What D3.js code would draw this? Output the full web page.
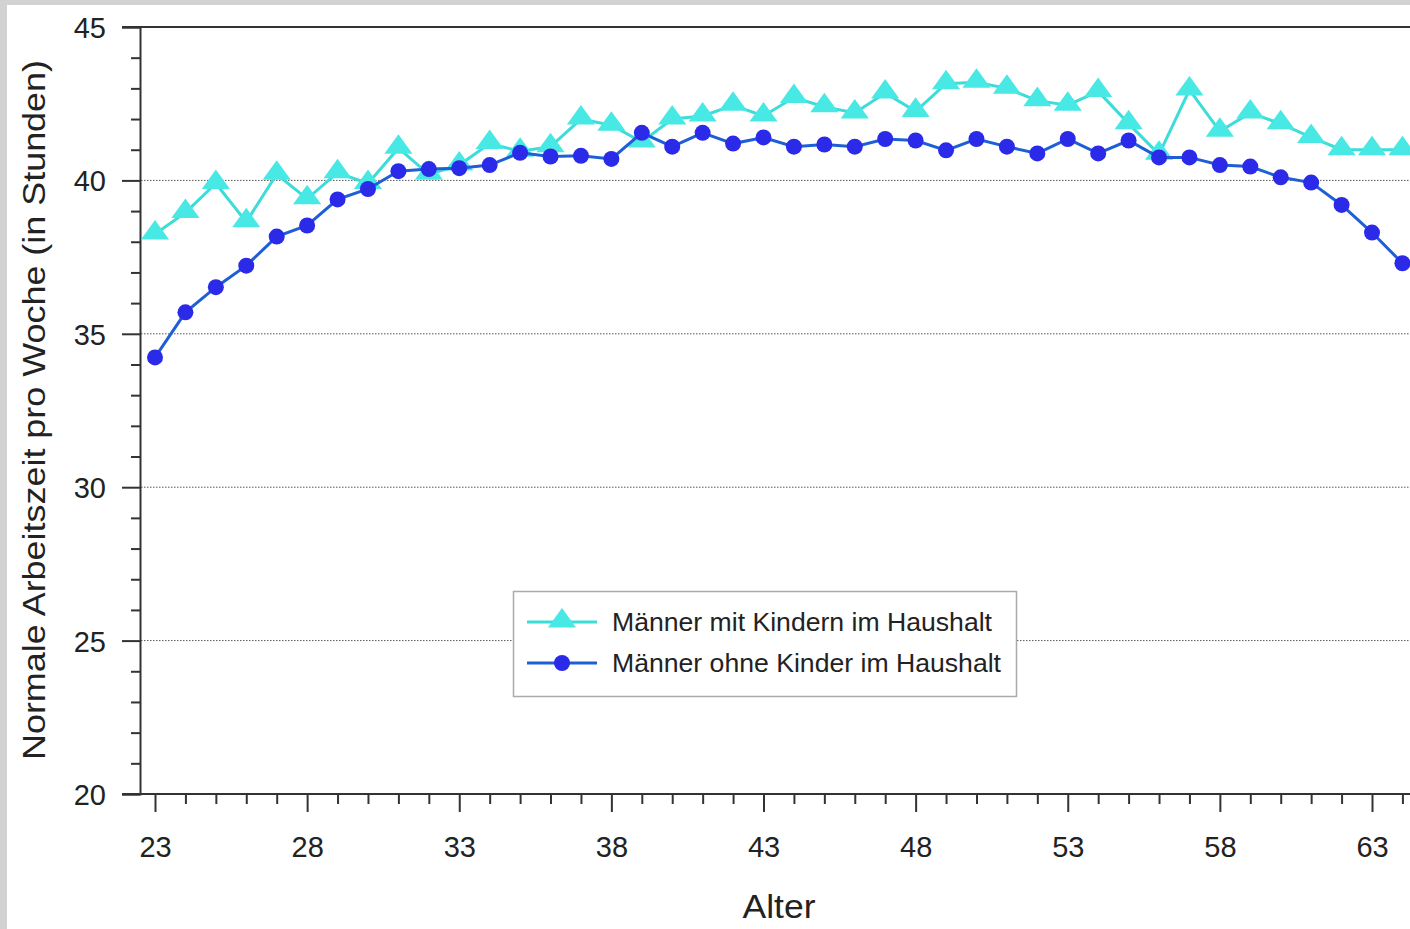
<!DOCTYPE html>
<html><head><meta charset="utf-8">
<script src="https://cdn.jsdelivr.net/npm/d3@7"></script>
<style>
html,body{margin:0;padding:0;background:#d2d2d2;overflow:hidden;}
svg{display:block;}
</style></head>
<body>
<script>
const ages = d3.range(23, 65);
const seriesNames = ["Männer mit Kindern im Haushalt", "Männer ohne Kinder im Haushalt"];
const mitKindern = [38.25,38.95,39.9,38.65,40.2,39.4,40.25,39.9,41.05,40.2,
  40.5,41.2,40.95,41.1,42.0,41.8,41.25,42.0,42.1,42.45,
  42.1,42.7,42.4,42.2,42.85,42.25,43.15,43.2,43.0,42.6,
  42.45,42.9,41.85,40.85,42.95,41.6,42.2,41.85,41.4,41.0,
  41.0,41.0];
const ohneKinder = [34.23,35.7,36.52,37.22,38.17,38.53,39.38,39.72,40.3,40.37,
  40.4,40.5,40.9,40.78,40.8,40.7,41.55,41.1,41.55,41.2,
  41.4,41.1,41.17,41.1,41.35,41.3,40.98,41.35,41.1,40.88,
  41.35,40.88,41.3,40.75,40.75,40.5,40.45,40.1,39.93,39.2,
  38.3,37.3];
const yTicks = [20,25,30,35,40,45];
const xTicks = [23,28,33,38,43,48,53,58,63];
const gridValues = [25,30,35,40];

const W = 1410, H = 929;
const svg = d3.select("body").append("svg").attr("width", W).attr("height", H);
svg.append("rect").attr("x",7).attr("y",5).attr("width",W-7).attr("height",H-5).attr("fill","#fff");

const x = d3.scaleLinear().domain([23, 63]).range([155, 1372]);
const y = d3.scaleLinear().domain([20, 45]).range([794, 27]);
const font = "Liberation Sans, Arial, sans-serif";

// grid
svg.append("g").selectAll("line").data(gridValues).join("line")
  .attr("x1", 141).attr("x2", W).attr("y1", d=>y(d)).attr("y2", d=>y(d))
  .attr("stroke", "#555").attr("stroke-width", 1).attr("stroke-dasharray","1.5,1.5");

// top frame line
svg.append("line").attr("x1",122).attr("x2",W).attr("y1",y(45)).attr("y2",y(45))
  .attr("stroke","#333").attr("stroke-width",2);

// y axis
const yAxis = d3.axisLeft(y).tickValues(yTicks).tickSize(18).tickPadding(16).tickFormat(d3.format("d"));
const gy = svg.append("g").attr("transform","translate(140,0)").call(yAxis);
gy.select(".domain").attr("stroke","#333").attr("stroke-width",2);
gy.selectAll(".tick line").attr("stroke","#333").attr("stroke-width",2);
gy.selectAll("text").attr("font-family",font).attr("font-size",29).attr("fill","#222").attr("dy","0.36em");
const yMinor = d3.axisLeft(y).tickValues(d3.range(20,46).filter(v=>v%5)).tickSize(9).tickFormat("");
const gym = svg.append("g").attr("transform","translate(140,0)").call(yMinor);
gym.select(".domain").remove();
gym.selectAll(".tick line").attr("stroke","#333").attr("stroke-width",2);

// x axis
svg.append("line").attr("x1",122).attr("x2",W).attr("y1",794).attr("y2",794).attr("stroke","#333").attr("stroke-width",2);
const xAxis = d3.axisBottom(x).tickValues(xTicks).tickSize(18).tickPadding(24).tickFormat(d3.format("d"));
const gx = svg.append("g").attr("transform","translate(0,794)").call(xAxis);
gx.select(".domain").remove();
gx.selectAll(".tick line").attr("stroke","#333").attr("stroke-width",2);
gx.selectAll("text").attr("font-family",font).attr("font-size",29).attr("fill","#222");
const xMinor = d3.axisBottom(x).tickValues(ages.filter(a=>(a-23)%5)).tickSize(10).tickFormat("");
const gxm = svg.append("g").attr("transform","translate(0,794)").call(xMinor);
gxm.select(".domain").remove();
gxm.selectAll(".tick line").attr("stroke","#333").attr("stroke-width",2);

// axis titles
svg.append("text").attr("x",779).attr("y",918).attr("text-anchor","middle")
  .attr("font-family",font).attr("font-size",33).attr("fill","#222")
  .attr("textLength",73).attr("lengthAdjust","spacingAndGlyphs").text("Alter");
svg.append("text").attr("transform","translate(45,410) rotate(-90)").attr("text-anchor","middle")
  .attr("font-family",font).attr("font-size",31).attr("fill","#222")
  .attr("textLength",700).attr("lengthAdjust","spacingAndGlyphs")
  .text("Normale Arbeitszeit pro Woche (in Stunden)");

const cyan = "#48e8e4", cyanLine = "#3cdcd8";
const blueDot = "#2a2ae8", blueLine = "#1f5fd6";

const line = d3.line().x((d,i)=>x(ages[i])).y(d=>y(d));
const tri = d3.symbol().type(d3.symbolTriangle).size(260);

const plot = svg.append("g");
// cyan series
plot.append("path").datum(mitKindern).attr("d", line).attr("fill","none")
  .attr("stroke",cyanLine).attr("stroke-width",3);
plot.selectAll(".tri").data(mitKindern).join("path").attr("class","tri")
  .attr("d", tri).attr("transform",(d,i)=>`translate(${x(ages[i])},${y(d)-1}) scale(1.15,0.92)`)
  .attr("fill",cyan);
// blue series
plot.append("path").datum(ohneKinder).attr("d", line).attr("fill","none")
  .attr("stroke",blueLine).attr("stroke-width",3);
plot.selectAll(".dot").data(ohneKinder).join("circle").attr("class","dot")
  .attr("cx",(d,i)=>x(ages[i])).attr("cy",d=>y(d)).attr("r",8).attr("fill",blueDot);

// legend
const lg = svg.append("g");
lg.append("rect").attr("x",513.5).attr("y",591.5).attr("width",503).attr("height",105)
  .attr("fill","#fff").attr("stroke","#aaa").attr("stroke-width",1.5);
const rows = [{name:seriesNames[0], c:cyanLine, m:"tri", yy:622, len:380},{name:seriesNames[1], c:blueLine, m:"dot", yy:663, len:389}];
rows.forEach(r=>{
  lg.append("line").attr("x1",527).attr("x2",597).attr("y1",r.yy).attr("y2",r.yy).attr("stroke",r.c).attr("stroke-width",3);
  if (r.m==="tri") lg.append("path").attr("d",tri).attr("transform",`translate(562,${r.yy-1}) scale(1.15,0.92)`).attr("fill",cyan);
  else lg.append("circle").attr("cx",562).attr("cy",r.yy).attr("r",8).attr("fill",blueDot);
  lg.append("text").attr("x",612).attr("y",r.yy+9).attr("font-family",font).attr("font-size",25).attr("fill","#222")
    .attr("textLength",r.len).attr("lengthAdjust","spacingAndGlyphs").text(r.name);
});
</script>
</body></html>
